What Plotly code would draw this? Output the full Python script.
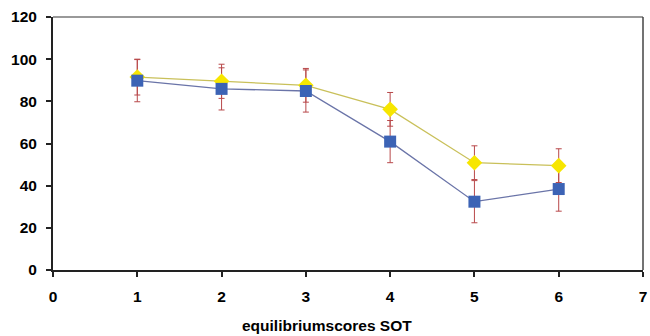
import plotly.graph_objects as go

x_vals = [1, 2, 3, 4, 5, 6]
blue_vals = [89.8, 85.9, 84.9, 60.9, 32.4, 38.4]
blue_err = [10, 10, 10, 10, 10, 10.5]
yellow_vals = [91.5, 89.5, 87.6, 76.2, 50.9, 49.5]
yellow_err = [8.5, 8.1, 8.0, 8.0, 8.0, 8.0]
x_ticks = [0, 1, 2, 3, 4, 5, 6, 7]
y_ticks = [0, 20, 40, 60, 80, 100, 120]
x_title = "equilibriumscores SOT"

err_color = "#b8484a"

fig = go.Figure()
# error bars first (drawn beneath the markers)
for vals, errs in [(blue_vals, blue_err), (yellow_vals, yellow_err)]:
    fig.add_trace(go.Scatter(
        x=x_vals, y=vals, mode="markers",
        marker=dict(size=2, opacity=0),
        error_y=dict(type="data", array=errs, visible=True, color=err_color, thickness=1, width=3),
        hoverinfo="skip",
    ))
fig.add_trace(go.Scatter(
    x=x_vals, y=yellow_vals, mode="lines+markers",
    line=dict(color="#c9c05a", width=1.3),
    marker=dict(symbol="diamond", size=12, color="#f7e600"),
))
fig.add_trace(go.Scatter(
    x=x_vals, y=blue_vals, mode="lines+markers",
    line=dict(color="#6a74a8", width=1.3),
    marker=dict(symbol="square", size=12, color="#3c63b5"),
))

font = dict(family="Liberation Sans, Arial, sans-serif", size=15.5, color="black")

fig.update_layout(
    width=650, height=336,
    margin=dict(l=53, r=7, t=17, b=66),
    paper_bgcolor="white", plot_bgcolor="white",
    showlegend=False,
    font=font,
    xaxis=dict(
        range=[0, 7], tickvals=x_ticks, ticktext=[f"<b>{v}</b>" for v in x_ticks],
        showgrid=False, zeroline=False, showline=True, linecolor="#222", linewidth=2,
        ticks="outside", ticklen=5, tickcolor="#222", tickwidth=1.5,
        automargin=False, ticklabelstandoff=6,
    ),
    yaxis=dict(
        range=[0, 120], tickvals=y_ticks, ticktext=[f"<b>{v}</b>" for v in y_ticks],
        showgrid=False, zeroline=False, showline=True, linecolor="#222", linewidth=2,
        ticks="outside", ticklen=5, tickcolor="#222", tickwidth=1.5,
        automargin=False, ticklabelstandoff=6,
    ),
    annotations=[dict(
        text=f"<b>{x_title}</b>", xref="paper", yref="paper", x=0.5, y=0,
        xshift=-21, yshift=-55, xanchor="center", yanchor="middle", showarrow=False,
        font=dict(size=15.5),
    )],
    shapes=[
        dict(type="line", xref="paper", yref="paper", x0=0, x1=1, y0=1, y1=1,
             line=dict(color="#777", width=1.5)),
        dict(type="line", xref="paper", yref="paper", x0=1, x1=1, y0=0, y1=1,
             line=dict(color="#444", width=1.5)),
    ],
)

fig.write_html("out.html", config={"displayModeBar": False},
               post_script="document.body.style.margin='0';document.body.style.overflow='hidden';")
